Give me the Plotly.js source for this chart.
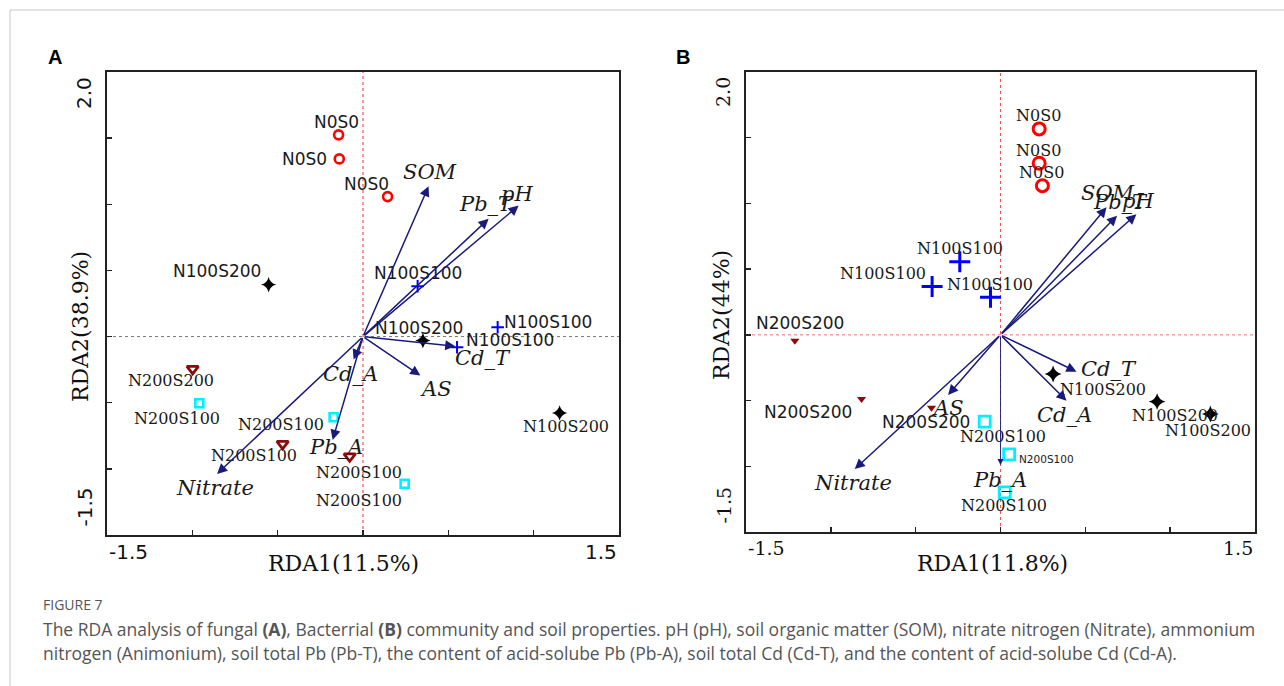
<!DOCTYPE html>
<html>
<head>
<meta charset="utf-8">
<script src="https://cdn.plot.ly/plotly-3.0.1.min.js"></script>
<style>html,body{margin:0;padding:0;background:#fff;}#chart{width:1284px;height:686px;}</style>
</head>
<body>
<div id="chart"></div>
<script>
// ================= DATA =================
// Axis ticks
const xTicks = [-1.5, -1, -0.5, 0, 0.5, 1, 1.5];
const yTicks = [-1.5, -1, -0.5, 0, 0.5, 1, 1.5, 2];
const xTickLabels = ['-1.5', '1.5'];
const yTickLabels = ['-1.5', '2.0'];

// Panel A (fungal) sample scores
const aN0S0_x = [-0.143, -0.139, 0.144];
const aN0S0_y = [1.525, 1.343, 1.058];
const aN0S0_lab = ['N0S0', 'N0S0', 'N0S0'];
const aN100S200_x = [-0.553, 0.351, 1.152];
const aN100S200_y = [0.393, -0.030, -0.577];
const aN100S200_lab = ['N100S200', 'N100S200', 'N100S200'];
const aN100S100_x = [0.320, 0.789, 0.551];
const aN100S100_y = [0.380, 0.070, -0.081];
const aN100S100_lab = ['N100S100', 'N100S100', 'N100S100'];
const aN200S200_x = [-0.998, -0.471, -0.078];
const aN200S200_y = [-0.244, -0.811, -0.905];
const aN200S200_lab = ['N200S200', 'N200S100', 'N200S100'];
const aN200S100_x = [-0.959, -0.172, 0.244];
const aN200S100_y = [-0.504, -0.610, -1.113];
const aN200S100_lab = ['N200S100', 'N200S100', 'N200S100'];
// Panel A environmental vectors
const aEnv = ['SOM', 'Pb_T', 'pH', 'Cd_T', 'AS', 'Cd_A', 'Pb_A', 'Nitrate'];
const aEnv_x = [0.384, 0.736, 0.912, 0.541, 0.336, -0.055, -0.178, -0.855];
const aEnv_y = [1.136, 0.890, 0.990, -0.073, -0.295, -0.174, -0.781, -1.038];

// Panel B (bacterial) sample scores
const bN0S0_x = [0.228, 0.228, 0.247];
const bN0S0_y = [1.567, 1.306, 1.135];
const bN0S0_lab = ['N0S0', 'N0S0', 'N0S0'];
const bN100S100_x = [-0.240, -0.403, -0.059];
const bN100S100_y = [0.557, 0.367, 0.286];
const bN100S100_lab = ['N100S100', 'N100S100', 'N100S100'];
const bN200S200_x = [-1.212, -0.819, -0.407];
const bN200S200_y = [-0.044, -0.488, -0.554];
const bN200S200_lab = ['N200S200', 'N200S200', 'N200S200'];
const bN200S100_x = [-0.093, 0.051, 0.025];
const bN200S100_y = [-0.660, -0.909, -1.198];
const bN200S100_lab = ['N200S100', 'N200S100', 'N200S100'];
const bN100S200_x = [0.310, 0.923, 1.237];
const bN100S200_y = [-0.298, -0.508, -0.602];
const bN100S200_lab = ['N100S200', 'N100S200', 'N100S200'];
// Panel B environmental vectors
const bEnv = ['SOM', 'Pb_T', 'pH', 'Cd_T', 'Cd_A', 'Pb_A', 'AS', 'Nitrate'];
const bEnv_x = [0.625, 0.687, 0.801, 0.448, 0.389, 0.0, -0.309, -0.859];
const bEnv_y = [0.971, 0.907, 0.918, -0.280, -0.501, -0.990, -0.457, -1.021];

const titles = {
  aX: 'RDA1(11.5%)', aY: 'RDA2(38.9%)',
  bX: 'RDA1(11.8%)', bY: 'RDA2(44%)'
};
const captionHead = 'FIGURE 7';
const captionLine1 = 'The RDA analysis of fungal <b>(A)</b>, Bacterrial <b>(B)</b> community and soil properties. pH (pH), soil organic matter (SOM), nitrate nitrogen (Nitrate), ammonium';
const captionLine2 = 'nitrogen (Animonium), soil total Pb (Pb-T), the content of acid-solube Pb (Pb-A), soil total Cd (Cd-T), and the content of acid-solube Cd (Cd-A).';

// ================= STYLE =================
const W = 1284, H = 686;
const px = v => v / W;
const py = v => 1 - v / H;
const SANS = 'DejaVu Sans, sans-serif';
const SERIF = 'DejaVu Serif, serif';
const CAP = 'Open Sans, sans-serif';
const NAVY = '#1a1a7e';
const RED = '#ff0000';
const DRED = '#8b0a0a';
const CYAN = '#00f0ff';
const BLUE = '#0000ff';

// label offsets [dx, dy, xanchor, font, size]
const S = SANS, R = SERIF;
const aLabStyle = {
  N0S0: [[-2, 13, 'center', S, 17], [-10, 0, 'right', S, 17], [-21, 13, 'center', S, 17]],
  N100S200: [[-6, 14, 'right', S, 17], [-4, 13, 'center', S, 17], [6, -14, 'center', R, 16]],
  N100S100: [[0, 13, 'center', S, 17], [4, 5, 'left', S, 17], [7, 7, 'left', S, 17]],
  N200S200: [[-22, -12, 'center', R, 16], [-29, -12, 'center', R, 16], [9, -16, 'center', R, 16]],
  N200S100: [[-22, -15, 'center', R, 16], [-8, -7, 'right', R, 16], [-46, -17, 'center', R, 16]]
};
const bLabStyle = {
  N0S0: [[-1, 13, 'center', R, 16], [-1, 13, 'center', R, 16], [-1, 13, 'center', R, 16]],
  N100S100: [[0, 13, 'center', R, 16], [-4, 13, 'right', R, 16], [0, 13, 'center', R, 16]],
  N200S200: [[5, 18, 'center', S, 17], [-8, -13, 'right', S, 17], [-5, -14, 'center', S, 17]],
  N200S100: [[18, -15, 'center', R, 16], [8, -5, 'left', S, 10.5], [-1, -13, 'center', R, 16]],
  N100S200: [[50, -15, 'center', R, 16], [18, -14, 'center', R, 16], [-2, -17, 'center', R, 16]]
};
// env label offsets [dx, dy]
const aEnvLab = [[1, 14], [-2, 15], [-2, 12], [28, -12], [16, -13], [-3, -14], [3, -7], [-2, -14]];
const bEnvLab = [[1, 14], [3, 14], [2, 13], [32, 3], [-2, -14], [-1, -15], [0, -13], [-2, -14]];
const bEnvWidth = [1.5, 1.5, 1.5, 1.5, 1.5, 0.9, 1.5, 1.5];

// marker styles per panel
const markA = {
  N0S0: {symbol: 'circle-open', size: 9, color: RED, line: {width: 2.6, color: RED}},
  N100S200: {symbol: 'star-diamond', size: 11, color: '#000'},
  N100S100: {symbol: 'cross-thin-open', size: 9, color: BLUE, line: {width: 2, color: BLUE}},
  N200S200: {symbol: 'triangle-down-open', size: 10, color: DRED, line: {width: 2.8, color: DRED}},
  N200S100: {symbol: 'square-open', size: 8, color: CYAN, line: {width: 2.6, color: CYAN}}
};
const markB = {
  N0S0: {symbol: 'circle-open', size: 12, color: RED, line: {width: 3, color: RED}},
  N100S100: {symbol: 'cross-thin-open', size: 15, color: BLUE, line: {width: 3, color: BLUE}},
  N200S200: {symbol: 'triangle-down', size: 8, color: DRED},
  N200S100: {symbol: 'square-open', size: 11, color: CYAN, line: {width: 2.8, color: CYAN}},
  N100S200: {symbol: 'star-diamond', size: 12, color: '#000'}
};

const domA = {x: [px(107), px(619)], y: [py(535), py(72)]};
const domB = {x: [px(746), px(1255)], y: [py(532), py(72)]};

// ================= BUILD =================
const traces = [];
const annotations = [];
const shapes = [];

function addGroup(xs, ys, labs, marker, styles, xa, ya) {
  traces.push({type: 'scatter', mode: 'markers', x: xs, y: ys, xaxis: xa, yaxis: ya,
    marker: marker, hoverinfo: 'skip', cliponaxis: false});
  labs.forEach((t, i) => {
    const s = styles[i];
    annotations.push({text: t, x: xs[i], y: ys[i], xref: xa, yref: ya, showarrow: false,
      xshift: s[0], yshift: s[1], xanchor: s[2], yanchor: 'middle',
      font: {family: s[3], size: s[4], color: '#1a1a1a'}});
  });
}

function addEnv(names, xs, ys, labOff, widths, xa, ya) {
  names.forEach((n, i) => {
    const w = widths ? widths[i] : 1.5;
    annotations.push({text: '', x: xs[i], y: ys[i], ax: 0, ay: 0, xref: xa, yref: ya,
      axref: xa, ayref: ya, showarrow: true, arrowhead: 2, arrowsize: 1.35,
      arrowwidth: w, arrowcolor: NAVY, standoff: 0, startstandoff: 0});
    annotations.push({text: '<i>' + n + '</i>', x: xs[i], y: ys[i], xref: xa, yref: ya,
      showarrow: false, xshift: labOff[i][0], yshift: labOff[i][1], xanchor: 'center', yanchor: 'middle',
      font: {family: SERIF, size: 21, color: '#1a1a1a'}});
  });
}

// Panel A
addGroup(aN0S0_x, aN0S0_y, aN0S0_lab, markA.N0S0, aLabStyle.N0S0, 'x', 'y');
addGroup(aN100S200_x, aN100S200_y, aN100S200_lab, markA.N100S200, aLabStyle.N100S200, 'x', 'y');
addGroup(aN100S100_x, aN100S100_y, aN100S100_lab, markA.N100S100, aLabStyle.N100S100, 'x', 'y');
addGroup(aN200S200_x, aN200S200_y, aN200S200_lab, markA.N200S200, aLabStyle.N200S200, 'x', 'y');
addGroup(aN200S100_x, aN200S100_y, aN200S100_lab, markA.N200S100, aLabStyle.N200S100, 'x', 'y');
addEnv(aEnv, aEnv_x, aEnv_y, aEnvLab, null, 'x', 'y');

// Panel B
addGroup(bN0S0_x, bN0S0_y, bN0S0_lab, markB.N0S0, bLabStyle.N0S0, 'x2', 'y2');
addGroup(bN100S100_x, bN100S100_y, bN100S100_lab, markB.N100S100, bLabStyle.N100S100, 'x2', 'y2');
addGroup(bN200S200_x, bN200S200_y, bN200S200_lab, markB.N200S200, bLabStyle.N200S200, 'x2', 'y2');
addGroup(bN200S100_x, bN200S100_y, bN200S100_lab, markB.N200S100, bLabStyle.N200S100, 'x2', 'y2');
addGroup(bN100S200_x, bN100S200_y, bN100S200_lab, markB.N100S200, bLabStyle.N100S200, 'x2', 'y2');
addEnv(bEnv, bEnv_x, bEnv_y, bEnvLab, bEnvWidth, 'x2', 'y2');

// zero reference lines
const xr = [xTicks[0], xTicks[xTicks.length - 1]];
const yr = [yTicks[0], yTicks[yTicks.length - 1]];
shapes.push({type: 'line', xref: 'x', yref: 'y', x0: 0, x1: 0, y0: yr[0], y1: yr[1], line: {color: '#e83030', width: 1, dash: 'dot'}, layer: 'below'});
shapes.push({type: 'line', xref: 'x', yref: 'y', x0: xr[0], x1: xr[1], y0: 0, y1: 0, line: {color: '#777', width: 1, dash: 'dot'}, layer: 'below'});
shapes.push({type: 'line', xref: 'x2', yref: 'y2', x0: 0, x1: 0, y0: yr[0], y1: yr[1], line: {color: '#ee5555', width: 1, dash: 'dot'}, layer: 'below'});
shapes.push({type: 'line', xref: 'x2', yref: 'y2', x0: xr[0], x1: xr[1], y0: 0, y1: 0, line: {color: '#f07070', width: 1, dash: 'dot'}, layer: 'below'});
// outer figure frame
shapes.push({type: 'line', xref: 'paper', yref: 'paper', x0: px(10), x1: px(10), y0: 0, y1: py(10), line: {color: '#c8c8c8', width: 1}});
shapes.push({type: 'line', xref: 'paper', yref: 'paper', x0: px(10), x1: 1, y0: py(10), y1: py(10), line: {color: '#c8c8c8', width: 1}});

// tick labels (end values only, drawn inside the axis span)
function tickLabels(xa, ya, fam, size) {
  annotations.push({text: xTickLabels[0], x: xr[0], y: yr[0], xref: xa, yref: ya, showarrow: false, xanchor: 'left', yanchor: 'top', yshift: -3, font: {family: fam, size: size, color: '#111'}});
  annotations.push({text: xTickLabels[1], x: xr[1], y: yr[0], xref: xa, yref: ya, showarrow: false, xanchor: 'right', yanchor: 'top', yshift: -3, font: {family: fam, size: size, color: '#111'}});
  annotations.push({text: yTickLabels[0], x: xr[0], y: yr[0], xref: xa, yref: ya, showarrow: false, xanchor: 'center', yanchor: 'bottom', xshift: -23, yshift: 6, textangle: -90, font: {family: fam, size: size, color: '#111'}});
  annotations.push({text: yTickLabels[1], x: xr[0], y: yr[1], xref: xa, yref: ya, showarrow: false, xanchor: 'center', yanchor: 'top', xshift: -23, yshift: -3, textangle: -90, font: {family: fam, size: size, color: '#111'}});
}
tickLabels('x', 'y', SANS, 20);
tickLabels('x2', 'y2', SERIF, 19);

// axis titles
const tf = {family: SERIF, size: 22, color: '#111'};
annotations.push({text: titles.aX, x: px(344), y: py(563), xref: 'paper', yref: 'paper', showarrow: false, xanchor: 'center', yanchor: 'middle', font: tf});
annotations.push({text: titles.aY, x: px(80), y: py(327), xref: 'paper', yref: 'paper', showarrow: false, xanchor: 'center', yanchor: 'middle', textangle: -90, font: tf});
annotations.push({text: titles.bX, x: px(992), y: py(563), xref: 'paper', yref: 'paper', showarrow: false, xanchor: 'center', yanchor: 'middle', font: tf});
annotations.push({text: titles.bY, x: px(722), y: py(315), xref: 'paper', yref: 'paper', showarrow: false, xanchor: 'center', yanchor: 'middle', textangle: -90, font: tf});

// panel letters
annotations.push({text: '<b>A</b>', x: px(55), y: py(57), xref: 'paper', yref: 'paper', showarrow: false, xanchor: 'center', yanchor: 'middle', font: {family: 'Liberation Sans, Arial, sans-serif', size: 20, color: '#000'}});
annotations.push({text: '<b>B</b>', x: px(683), y: py(57), xref: 'paper', yref: 'paper', showarrow: false, xanchor: 'center', yanchor: 'middle', font: {family: 'Liberation Sans, Arial, sans-serif', size: 20, color: '#000'}});

// caption
annotations.push({text: captionHead, x: px(41), y: py(604), xref: 'paper', yref: 'paper', showarrow: false, xanchor: 'left', yanchor: 'middle', font: {family: CAP, size: 14, color: '#555'}});
annotations.push({text: captionLine1, x: px(41), y: py(629), xref: 'paper', yref: 'paper', showarrow: false, xanchor: 'left', yanchor: 'middle', font: {family: CAP, size: 17.5, color: '#555'}});
annotations.push({text: captionLine2, x: px(41), y: py(653), xref: 'paper', yref: 'paper', showarrow: false, xanchor: 'left', yanchor: 'middle', font: {family: CAP, size: 17.5, color: '#555'}});

function axis(dom, rng, ticks, anchor) {
  return {domain: dom, range: rng, anchor: anchor, showgrid: false, zeroline: false,
    showline: true, mirror: true, linecolor: '#222', linewidth: 2,
    ticks: 'inside', ticklen: 5, tickwidth: 1.5, tickcolor: '#222',
    tickmode: 'array', tickvals: ticks, showticklabels: false, fixedrange: true};
}

const layout = {
  width: W, height: H, margin: {l: 0, r: 0, t: 0, b: 0},
  paper_bgcolor: '#fff', plot_bgcolor: '#fff', showlegend: false,
  xaxis: axis(domA.x, xr, xTicks, 'y'),
  yaxis: axis(domA.y, yr, yTicks, 'x'),
  xaxis2: axis(domB.x, xr, xTicks, 'y2'),
  yaxis2: axis(domB.y, yr, yTicks, 'x2'),
  annotations: annotations,
  shapes: shapes
};

Plotly.newPlot('chart', traces, layout, {displayModeBar: false, staticPlot: true});
</script>
</body>
</html>
